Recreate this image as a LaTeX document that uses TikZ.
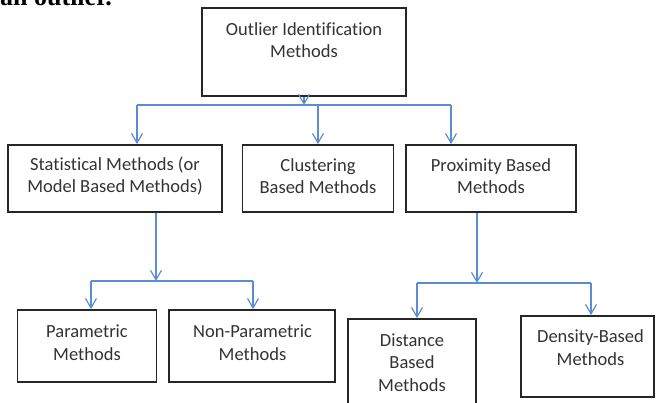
\documentclass[tikz,border=0pt]{standalone}
\usepackage{fontspec}
\setmainfont{Carlito}[Ligatures=CommonOff]
\newfontfamily\serifbody{Liberation Serif}
\usetikzlibrary{arrows.meta}
\definecolor{linkblue}{RGB}{91,141,213}
\tikzset{
  box/.style={draw=black!85, line width=1.8pt, rectangle, inner sep=0pt},
  lbl/.style={align=center, font=\fontsize{18.5}{22.5}\selectfont, text=black!80, inner sep=0pt},
  link/.style={draw=linkblue, line width=1.2pt},
  arr/.style={link, -{Straight Barb[length=9.5pt,width=11pt]}},
}
\begin{document}
\begin{tikzpicture}[x=1pt,y=-1pt]
\clip (0,0) rectangle (656,403);
\fill[white] (0,0) rectangle (656,403);
\node[anchor=base west, font=\serifbody\bfseries\fontsize{26}{26}\selectfont, inner sep=0pt] (cut) at (0,6) {an outlier.};

% boxes
\node[box, minimum width=204pt, minimum height=88pt] (root) at (304,52) {};
\node[lbl] (rootT) at (304,40) {Outlier Identification\\Methods};

\node[box, minimum width=214pt, minimum height=67pt] (stat) at (115,178.5) {};
\node[lbl] (statT) at (115,176) {Statistical Methods (or\\Model Based Methods)};

\node[box, minimum width=151pt, minimum height=67pt] (clu) at (318,178.5) {};
\node[lbl] (cluT) at (318,176) {Clustering\\Based Methods};

\node[box, minimum width=170pt, minimum height=67pt] (prox) at (491,178.5) {};
\node[lbl] (proxT) at (491,176) {Proximity Based\\Methods};

\node[box, minimum width=139pt, minimum height=72pt] (par) at (87,346) {};
\node[lbl] (parT) at (87,342.5) {Parametric\\Methods};

\node[box, minimum width=166pt, minimum height=72pt] (npar) at (252,346) {};
\node[lbl] (nparT) at (252.5,342.5) {Non-Parametric\\Methods};

\node[box, minimum width=128pt, minimum height=93pt] (dist) at (412,365.5) {};
\node[lbl] (distT) at (412,362.5) {Distance\\Based\\Methods};

\node[box, minimum width=133pt, minimum height=81pt] (dens) at (587.5,356.5) {};
\node[lbl] (densT) at (590.5,347.5) {Density-Based\\Methods};

% connectors: top level
\coordinate (hl) at (137,105);
\coordinate (hr) at (451,105);
\draw[arr] (root.south) -- (root.south |- hl);
\draw[link] (hl) -- (hr);
\draw[arr] (hl) -- (hl |- stat.north);
\draw[arr] (clu.north |- hl) -- (clu.north);
\draw[arr] (hr) -- (hr |- prox.north);

% statistical branch
\coordinate (sj) at (156,281);
\coordinate (sl) at (91,281);
\coordinate (sr) at (253,281);
\draw[arr] (stat.south -| sj) -- (sj);
\draw[link] (sl) -- (sr);
\draw[arr] (sl) -- (sl |- par.north);
\draw[arr] (sr) -- (sr |- npar.north);

% proximity branch
\coordinate (pj) at (477,283);
\coordinate (pl) at (417,283);
\coordinate (pr) at (591,283);
\draw[arr] (prox.south -| pj) -- (pj);
\draw[link] (pl) -- (pr);
\draw[arr] (pl) -- (pl |- dist.north);
\draw[arr] (pr) -- (pr |- dens.north);
\end{tikzpicture}
\end{document}
